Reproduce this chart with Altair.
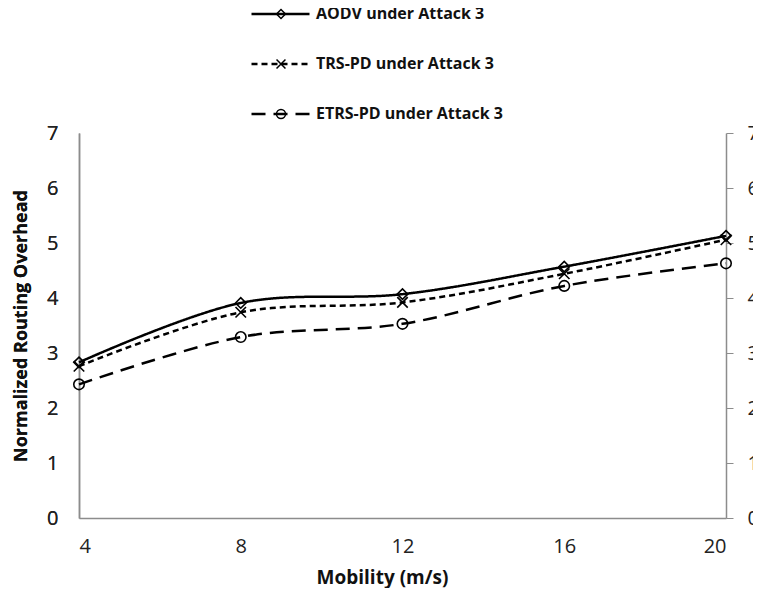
import altair as alt
import pandas as pd

mobility = [4, 8, 12, 16, 20]
series_names = ["AODV under Attack 3", "TRS-PD under Attack 3", "ETRS-PD under Attack 3"]
aodv = [2.83, 3.91, 4.07, 4.57, 5.13]
trs_pd = [2.76, 3.74, 3.92, 4.44, 5.06]
etrs_pd = [2.43, 3.29, 3.53, 4.22, 4.63]
y_ticks = [0, 1, 2, 3, 4, 5, 6, 7]

marker_names = [n + " marker" for n in series_names]

rows = []
for name, mname, vals in zip(series_names, marker_names, [aodv, trs_pd, etrs_pd]):
    for m, v in zip(mobility, vals):
        rows.append({"Mobility": m, "Overhead": v, "Series": name, "Marker": mname})
df = pd.DataFrame(rows)

FONT = "Open Sans"
GRAY = "#8c8c8c"

x_enc = alt.X(
    "Mobility:Q",
    scale=alt.Scale(domain=[4, 20], nice=False, zero=False),
    axis=alt.Axis(
        values=mobility, title="Mobility (m/s)", ticks=False, grid=False,
        domainColor=GRAY, domainWidth=1.5, labelFont=FONT, labelFontSize=20,
        labelColor="#222", labelPadding=18, titleFont=FONT, titleFontSize=19,
        titleFontWeight="bold", titleColor="#111", titlePadding=12, titleX=303,
    ),
)

y_left = alt.Y(
    "Overhead:Q",
    scale=alt.Scale(domain=[0, 7], nice=False),
    axis=alt.Axis(
        orient="left", values=y_ticks, title="Normalized Routing Overhead",
        ticks=False, grid=False, domainColor=GRAY, domainWidth=1.5,
        labelFont=FONT, labelFontSize=20, labelColor="#222", labelPadding=21,
        titleFont=FONT, titleFontSize=18, titleFontWeight="bold",
        titleColor="#111", titlePadding=16,
    ),
)

y_right = alt.Y(
    "Overhead:Q",
    scale=alt.Scale(domain=[0, 7], nice=False),
    axis=alt.Axis(
        orient="right", values=y_ticks, title=None, ticks=True, tickSize=7,
        tickColor=GRAY, grid=False, domainColor=GRAY, domainWidth=1.5,
        labelFont=FONT, labelFontSize=20, labelColor="#222", labelPadding=14,
    ),
)

base = alt.Chart(df)

lines = base.mark_line(interpolate="catmull-rom", strokeWidth=2.5, color="black").encode(
    x=x_enc,
    y=y_left,
    strokeDash=alt.StrokeDash(
        "Series:N",
        scale=alt.Scale(domain=series_names, range=[[1, 0], [6, 4], [14, 8]]),
        legend=alt.Legend(
            title=None, orient="none", legendX=171, legendY=-127,
            direction="vertical", symbolType="stroke", symbolSize=3364,
            symbolStrokeWidth=2.5, symbolStrokeColor="black",
            labelFont=FONT, labelFontSize=16, labelFontWeight="bold",
            labelColor="#111", rowPadding=34, clipHeight=16, padding=0,
            labelOffset=5, labelLimit=400,
        ),
    ),
)

points = base.mark_point(filled=False, strokeWidth=1.6, color="black", size=110, opacity=1).encode(
    x=x_enc,
    y=y_left,
    shape=alt.Shape(
        "Marker:N",
        scale=alt.Scale(domain=marker_names, range=["diamond", "M-1,-1L1,1M-1,1L1,-1", "circle"]),
        legend=alt.Legend(
            title=None, orient="none", legendX=171, legendY=-127,
            direction="vertical", symbolSize=80, symbolStrokeWidth=1.5,
            symbolStrokeColor="black", symbolFillColor="white",
            labelExpr="''", labelFontSize=16, rowPadding=34, clipHeight=16,
            padding=0, symbolOffset=23,
        ),
    ),
)

right_axis = base.mark_point(opacity=0).encode(x=x_enc, y=y_right)

chart = (
    alt.layer(lines, points, right_axis)
    .resolve_scale(y="independent")
    .properties(
        width=647,
        height=385,
        padding={"left": 71, "top": 125, "right": 27, "bottom": 70},
        autosize=alt.AutoSizeParams(type="none"),
        background="white",
    )
    .configure_view(stroke=None)
)

chart.save("out.html", embed_options={"renderer": "svg", "actions": False})
